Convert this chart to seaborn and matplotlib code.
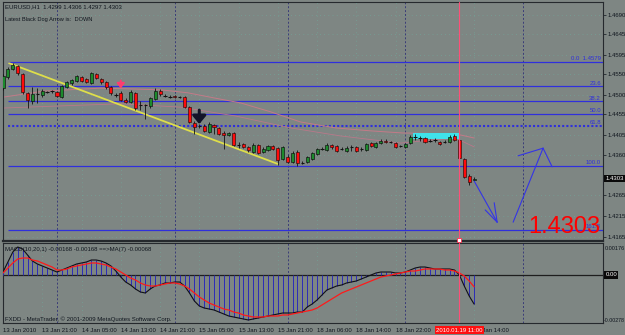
import numpy as np
import pandas as pd
import matplotlib
matplotlib.use("Agg")
import matplotlib.pyplot as plt
import matplotlib.transforms as mtransforms
import seaborn as sns

# ---------------- data (EURUSD H1, 13 Jan 13:00 .. 19 Jan 14:00) ----------------
opens = [1.4517, 1.4543, 1.4562, 1.4569, 1.4550, 1.4506, 1.4487, 1.4502, 1.4501, 1.4508,
         1.4510, 1.4508, 1.4496, 1.4520, 1.4529, 1.4534, 1.4543, 1.4539, 1.4529, 1.4550,
         1.4539, 1.4532, 1.4520, 1.4501, 1.4506, 1.4489, 1.4484, 1.4506, 1.4477, 1.4476,
         1.4475, 1.4491, 1.4510, 1.4498, 1.4497, 1.4498, 1.4496, 1.4496, 1.4472, 1.4435,
         1.4427, 1.4427, 1.4413, 1.4430, 1.4423, 1.4411, 1.4406, 1.4411, 1.4383, 1.4385,
         1.4378, 1.4366, 1.4383, 1.4366, 1.4371, 1.4380, 1.4376, 1.4349, 1.4354, 1.4342,
         1.4366, 1.4340, 1.4342, 1.4349, 1.4361, 1.4373, 1.4371, 1.4383, 1.4380, 1.4373,
         1.4368, 1.4378, 1.4378, 1.4373, 1.4371, 1.4387, 1.4378, 1.4387, 1.4392, 1.4390,
         1.4387, 1.4380, 1.4378, 1.4387, 1.4401, 1.4399, 1.4399, 1.4392, 1.4394, 1.4390,
         1.4390, 1.4390, 1.4404, 1.4394, 1.4349, 1.4309, 1.4299]
highs = [1.4550, 1.4567, 1.4576, 1.4572, 1.4553, 1.4508, 1.4520, 1.4517, 1.4515, 1.4510,
         1.4513, 1.4510, 1.4524, 1.4534, 1.4539, 1.4548, 1.4546, 1.4541, 1.4555, 1.4553,
         1.4541, 1.4534, 1.4522, 1.4506, 1.4510, 1.4494, 1.4513, 1.4508, 1.4487, 1.4480,
         1.4496, 1.4517, 1.4515, 1.4503, 1.4501, 1.4501, 1.4498, 1.4498, 1.4475, 1.4439,
         1.4432, 1.4432, 1.4437, 1.4432, 1.4425, 1.4416, 1.4413, 1.4413, 1.4390, 1.4387,
         1.4380, 1.4387, 1.4385, 1.4378, 1.4383, 1.4383, 1.4378, 1.4380, 1.4359, 1.4368,
         1.4371, 1.4345, 1.4357, 1.4366, 1.4376, 1.4378, 1.4387, 1.4385, 1.4383, 1.4378,
         1.4380, 1.4383, 1.4380, 1.4378, 1.4387, 1.4390, 1.4390, 1.4397, 1.4397, 1.4392,
         1.4390, 1.4383, 1.4387, 1.4406, 1.4409, 1.4404, 1.4402, 1.4397, 1.4399, 1.4392,
         1.4394, 1.4406, 1.4409, 1.4399, 1.4352, 1.4314, 1.4306]
lows = [1.4513, 1.4539, 1.4560, 1.4548, 1.4503, 1.4470, 1.4480, 1.4482, 1.4496, 1.4506,
        1.4506, 1.4496, 1.4494, 1.4517, 1.4524, 1.4532, 1.4532, 1.4529, 1.4527, 1.4539,
        1.4527, 1.4515, 1.4501, 1.4496, 1.4487, 1.4482, 1.4482, 1.4465, 1.4465, 1.4444,
        1.4470, 1.4489, 1.4498, 1.4496, 1.4494, 1.4494, 1.4494, 1.4470, 1.4435, 1.4409,
        1.4423, 1.4413, 1.4411, 1.4409, 1.4406, 1.4373, 1.4404, 1.4380, 1.4376, 1.4376,
        1.4366, 1.4364, 1.4361, 1.4364, 1.4368, 1.4371, 1.4335, 1.4347, 1.4340, 1.4340,
        1.4334, 1.4338, 1.4340, 1.4347, 1.4359, 1.4371, 1.4368, 1.4373, 1.4366, 1.4371,
        1.4366, 1.4368, 1.4366, 1.4368, 1.4368, 1.4378, 1.4376, 1.4385, 1.4387, 1.4387,
        1.4376, 1.4378, 1.4376, 1.4385, 1.4394, 1.4392, 1.4387, 1.4390, 1.4390, 1.4383,
        1.4387, 1.4387, 1.4392, 1.4349, 1.4305, 1.4288, 1.4297]
closes = [1.4546, 1.4562, 1.4572, 1.4553, 1.4508, 1.4489, 1.4503, 1.4502, 1.4510, 1.4508,
          1.4510, 1.4498, 1.4522, 1.4532, 1.4536, 1.4546, 1.4534, 1.4532, 1.4553, 1.4541,
          1.4532, 1.4520, 1.4506, 1.4501, 1.4489, 1.4484, 1.4508, 1.4470, 1.4477, 1.4476,
          1.4494, 1.4510, 1.4503, 1.4498, 1.4497, 1.4496, 1.4496, 1.4472, 1.4437, 1.4425,
          1.4427, 1.4416, 1.4432, 1.4425, 1.4409, 1.4406, 1.4411, 1.4383, 1.4383, 1.4378,
          1.4371, 1.4383, 1.4364, 1.4373, 1.4380, 1.4373, 1.4347, 1.4378, 1.4342, 1.4364,
          1.4340, 1.4340, 1.4354, 1.4364, 1.4373, 1.4373, 1.4383, 1.4378, 1.4368, 1.4373,
          1.4376, 1.4378, 1.4368, 1.4373, 1.4385, 1.4380, 1.4387, 1.4392, 1.4390, 1.4390,
          1.4378, 1.4380, 1.4385, 1.4402, 1.4401, 1.4399, 1.4390, 1.4392, 1.4394, 1.4385,
          1.4390, 1.4402, 1.4394, 1.4352, 1.4307, 1.4295, 1.4303]

# MACD(10,20,1) main value and its MA(7) signal, in units of 0.001
macd_main = [0.173, 0.751, 1.329, 1.618, 1.503, 1.156, 0.809, 0.636, 0.520, 0.405,
             0.289, 0.173, 0.289, 0.405, 0.520, 0.636, 0.694, 0.751, 0.867, 0.867,
             0.809, 0.694, 0.520, 0.231, -0.116, -0.405, -0.578, -0.809, -0.983, -1.040,
             -0.809, -0.636, -0.578, -0.462, -0.462, -0.405, -0.405, -0.636, -1.040, -1.503,
             -1.792, -1.908, -1.965, -2.023, -2.139, -2.254, -2.370, -2.428, -2.486, -2.543,
             -2.601, -2.543, -2.486, -2.428, -2.370, -2.312, -2.254, -2.197, -2.197, -2.197,
             -2.139, -2.139, -1.850, -1.676, -1.445, -1.156, -0.867, -0.751, -0.636, -0.578,
             -0.462, -0.405, -0.347, -0.231, -0.116, 0.000, 0.116, 0.173, 0.173, 0.173,
             0.116, 0.116, 0.173, 0.289, 0.405, 0.462, 0.462, 0.405, 0.347, 0.347,
             0.347, 0.347, 0.289, 0.000, -0.636, -1.214, -1.680]
macd_signal = [0.116, 0.405, 0.694, 0.925, 0.983, 0.983, 0.867, 0.809, 0.694, 0.578,
               0.462, 0.289, 0.289, 0.347, 0.462, 0.520, 0.578, 0.636, 0.694, 0.694,
               0.636, 0.578, 0.462, 0.347, 0.173, 0.000, -0.173, -0.289, -0.462, -0.578,
               -0.636, -0.636, -0.578, -0.520, -0.462, -0.462, -0.520, -0.636, -0.809, -1.040,
               -1.272, -1.445, -1.618, -1.734, -1.850, -1.965, -2.023, -2.139, -2.197, -2.312,
               -2.370, -2.428, -2.428, -2.428, -2.370, -2.370, -2.370, -2.312, -2.312, -2.254,
               -2.197, -2.139, -2.081, -2.023, -1.908, -1.734, -1.561, -1.387, -1.214, -1.040,
               -0.925, -0.809, -0.694, -0.578, -0.462, -0.347, -0.231, -0.116, -0.058, 0.000,
               0.058, 0.116, 0.173, 0.231, 0.231, 0.289, 0.347, 0.347, 0.347, 0.347,
               0.289, 0.289, 0.231, 0.116, -0.058, -0.347, -0.680]

# moving-average overlays (read at a few bars)
ma1_bars = [0.22, 8.35, 19.95, 26.66, 32.15, 37.65, 42.94, 48.43, 54.53, 60.63, 67.75, 74.87, 81.38, 92.16, 96.03]
ma1_vals = [1.4496, 1.4510, 1.4517, 1.4515, 1.4513, 1.4506, 1.4494, 1.4482, 1.4461, 1.4437, 1.4423, 1.4416, 1.4411, 1.4409, 1.4399]
ma2_bars = [0.22, 11.81, 24.02, 36.22, 47.41, 58.6, 68.77, 80.98, 87.08, 92.16, 96.03]
ma2_vals = [1.4470, 1.4475, 1.4480, 1.4472, 1.4451, 1.4423, 1.4404, 1.4387, 1.4394, 1.4399, 1.4378]

# Fibonacci retracement
fib_high, fib_low = 1.4579, 1.4334
fib_ratios = [0.0, 0.236, 0.382, 0.5, 0.618, 1.0, 1.618]
fib_labels = ["0.0  1.4579", "23.6", "38.2", "50.0", "61.8", "100.0", "161.8"]

price_ticks = [1.4690, 1.4645, 1.4595, 1.4550, 1.4500, 1.4455, 1.4405, 1.4360, 1.4265, 1.4215, 1.4165]
time_tick_bars = [0, 8, 16, 24, 32, 40, 48, 56, 64, 72, 80, 96]
time_tick_labels = ["13 Jan 2010", "13 Jan 21:00", "14 Jan 05:00", "14 Jan 13:00", "14 Jan 21:00",
                    "15 Jan 05:00", "15 Jan 13:00", "15 Jan 21:00", "18 Jan 06:00", "18 Jan 14:00",
                    "18 Jan 22:00", "19 Jan 14:00"]
day_separators = [11, 35, 58, 82, 106]
cursor_bar = 93

# drawn objects
trend_line = ([1.23, 55.95], [1.4576, 1.4338])
box_bars, box_prices = (83.6, 93.0), (1.4397, 1.4411)
down_path = ([96.03, 100.7], [1.4297, 1.4200])
down_head = [([98.26, 100.7], [1.4229, 1.4200]), ([100.1, 100.7], [1.4246, 1.4200])]
up_path = ([103.96, 110.06], [1.4200, 1.4375])
up_head = [([104.98, 110.06], [1.4357, 1.4375]), ([110.06, 111.9], [1.4375, 1.4331])]
last_price = 1.4303

# ---------------- drawing ----------------
sns.set_style("white")
plt.rcParams['font.family'] = ['Liberation Sans', 'DejaVu Sans']

W, H = 625, 335
BG = "#7e8683"
INK = "#10161e"
FIB = "#2f2fdc"
FS = 4.3


def fx(px):
    return px / W


def fy(py):
    return 1 - py / H


fig = plt.figure(figsize=(6.25, 3.35), dpi=100, facecolor=BG)
ax = fig.add_axes([fx(3), fy(241), fx(603) - fx(3), fy(2) - fy(241)])
ax2 = fig.add_axes([fx(3), fy(323), fx(603) - fx(3), fy(243) - fy(323)], sharex=ax)
for a in (ax, ax2):
    a.set_facecolor(BG)
    for s in a.spines.values():
        s.set_color("#25292d")
        s.set_linewidth(0.8)
ax.spines['bottom'].set_linewidth(1.6)

bars = np.arange(len(opens))
o = np.array(opens); c = np.array(closes); hi = np.array(highs); lo = np.array(lows)

ax.set_xlim(0.218, 122.27)
ax.set_ylim(1.41555, 1.47207)
ax2.set_ylim(-0.002775, 0.00185)

# grid dots
for t in price_ticks:
    ax.axhline(t, color="#6fae9e", lw=0.5, ls=(0, (1, 5)), zorder=0)
for t in time_tick_bars:
    for a in (ax, ax2):
        a.axvline(t, color="#6fae9e", lw=0.5, ls=(0, (1, 5)), zorder=0)

# day separators
for d in day_separators:
    for a in (ax, ax2):
        a.axvline(d, color="#3a3c78", lw=0.7, ls=(0, (2, 2)), zorder=1)

# fibonacci lines
fib_levels = [fib_high - r * (fib_high - fib_low) for r in fib_ratios]
lab_tr = mtransforms.blended_transform_factory(ax.transAxes, ax.transData)
for r, lvl, lab in zip(fib_ratios, fib_levels, fib_labels):
    if r == 0.618:
        ax.hlines(lvl, 1.03, 122.27, color=FIB, lw=1.5, ls=(0, (1, 1)), zorder=2)
    else:
        ax.hlines(lvl, 1.03, 122.27, color=FIB, lw=0.9, zorder=2)
    ax.text(0.9967, lvl + 0.0002, lab, transform=lab_tr, ha="right", va="bottom",
            fontsize=FS, color=FIB, zorder=3)

# moving averages
sns.lineplot(x=ma1_bars, y=ma1_vals, ax=ax, color="#c47a88", lw=0.7, zorder=2)
sns.lineplot(x=ma2_bars, y=ma2_vals, ax=ax, color="#b9788a", lw=0.6, zorder=2)

# trend line
ax.plot(trend_line[0], trend_line[1], color="#dede4a", lw=1.3, zorder=3)

# consolidation box
ax.fill_between(box_bars, box_prices[0], box_prices[1], color="#3fe2ea", zorder=3, lw=0)

# candles
ax.vlines(bars, lo, hi, color="#121212", lw=0.6, zorder=4)
doji = np.isclose(o, c)
up = (c > o) & ~doji
dn = (c < o) & ~doji
ax.bar(bars[up], (c - o)[up], bottom=o[up], width=0.62, color="#1c8a2c",
       edgecolor="#0d0d0d", linewidth=0.45, zorder=5)
ax.bar(bars[dn], (o - c)[dn], bottom=c[dn], width=0.62, color="#ff0b0b",
       edgecolor="#2a0a0a", linewidth=0.45, zorder=5)
ax.hlines(c[doji], bars[doji] - 0.35, bars[doji] + 0.35, color="#121212", lw=0.8, zorder=5)

# signal arrows
ax.annotate("", xy=(24, 1.4516), xytext=(24, 1.4535),
            arrowprops=dict(arrowstyle="-|>,head_width=0.45,head_length=0.6",
                            mutation_scale=5, color="#ff3c70", lw=1.4,
                            shrinkA=0, shrinkB=0), zorder=6)
ax.annotate("", xy=(40, 1.4432), xytext=(40, 1.4465),
            arrowprops=dict(arrowstyle="-|>,head_width=0.5,head_length=0.6",
                            mutation_scale=8, color="#121428", lw=2.2,
                            shrinkA=0, shrinkB=0), zorder=6)

# hand drawn projection
ax.plot(*down_path, color="#3434e6", lw=0.8, zorder=6)
for seg in down_head:
    ax.plot(*seg, color="#3434e6", lw=0.8, zorder=6)
ax.plot(*up_path, color="#3434e6", lw=0.8, zorder=6)
for seg in up_head:
    ax.plot(*seg, color="#3434e6", lw=0.8, zorder=6)

# cursor line
for a in (ax, ax2):
    a.axvline(cursor_bar, color="#ff4f78", lw=0.8, zorder=7)
ax.scatter([cursor_bar], [1.41575], marker="s", s=5, color="white", edgecolor="#ff3050",
           linewidth=0.6, zorder=8, clip_on=False)

# right price axis
ax.yaxis.tick_right()
ax.set_yticks(price_ticks)
ax.set_yticklabels([f"{v:.4f}" for v in price_ticks])
ax.tick_params(axis="y", labelsize=FS, length=2, width=0.5, pad=1.5, colors=INK)
ax.tick_params(axis="x", labelbottom=False, length=0)
ax.text(1.004, last_price, f"{last_price:.4f}", transform=lab_tr, ha="left", va="center",
        fontsize=FS, color="white", zorder=9,
        bbox=dict(facecolor="#0a0a0a", edgecolor="none", pad=0.8), clip_on=False)

# big price text
fig.text(fx(600), fy(233), f"{last_price:.4f}", ha="right", va="baseline", fontsize=17,
         color="#ff0000")

# header texts
fig.text(fx(5), fy(6.5), "EURUSD,H1  1.4299 1.4306 1.4297 1.4303", ha="left", va="center",
         fontsize=FS, color=INK)
fig.text(fx(5), fy(20), "Latest Black Dog Arrow is:  DOWN", ha="left", va="center",
         fontsize=4.1, color=INK)

# MACD panel
macd = np.array(macd_main) / 1000.0
sig = np.array(macd_signal) / 1000.0
ax2.axhline(0, color="#1e1e1e", lw=0.9, zorder=2)
ax2.vlines(bars, 0, macd, color="#2c2cb8", lw=0.7, zorder=3)
sns.lineplot(x=bars, y=macd, ax=ax2, color="#101018", lw=0.8, zorder=4)
sns.lineplot(x=bars, y=sig, ax=ax2, color="#ff1a1a", lw=0.9, zorder=5)
ax2.set_ylabel("")
ax.set_ylabel("")
ax2.set_yticks([])
tr2 = mtransforms.blended_transform_factory(ax2.transAxes, ax2.transData)
ax2.text(1.004, 0, "0.00", transform=tr2, ha="left", va="center", fontsize=FS, color="white",
         bbox=dict(facecolor="#0a0a0a", edgecolor="none", pad=0.8), clip_on=False, zorder=9)
fig.text(fx(604.5), fy(249), "0.00176", ha="left", va="center", fontsize=4.0, color=INK)
fig.text(fx(603.5), fy(320), "-0.00278", ha="left", va="center", fontsize=3.8, color=INK)
fig.text(fx(5), fy(249), "MACD(10,20,1) -0.00168 -0.00168 ==>MA(7) -0.00068", ha="left",
         va="center", fontsize=FS, color=INK)
fig.text(fx(5), fy(319), "FXDD - MetaTrader, \u00a9 2001-2009 MetaQuotes Software Corp.",
         ha="left", va="center", fontsize=FS, color=INK)

# time axis
ax2.set_xticks(time_tick_bars)
ax2.set_xticklabels(time_tick_labels, ha="left")
ax2.tick_params(axis="x", labelsize=FS, length=2, width=0.5, pad=1.5, colors=INK)
tr3 = mtransforms.blended_transform_factory(ax2.transData, ax2.transAxes)
ax2.text(cursor_bar, -0.09, "2010.01.19 11:00", transform=tr3, ha="center", va="center",
         fontsize=FS, color="white", clip_on=False, zorder=9,
         bbox=dict(facecolor="#ff1010", edgecolor="none", pad=1.0))
ax2.set_xlabel("")

fig.savefig("out.png", dpi=100, facecolor=BG)
